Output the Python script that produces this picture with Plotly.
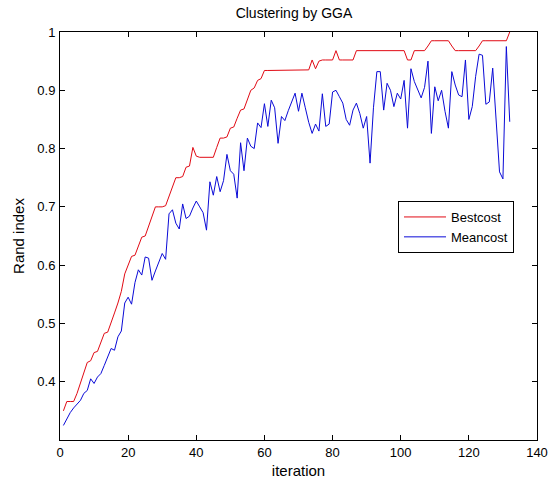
import plotly.graph_objects as go

iterations = list(range(1, 133))

bestcost = [
    0.350, 0.366, 0.366, 0.366, 0.380, 0.397, 0.415, 0.433, 0.436, 0.450,
    0.452, 0.468, 0.483, 0.485, 0.500, 0.518, 0.535, 0.555, 0.585, 0.600,
    0.615, 0.617, 0.633, 0.648, 0.650, 0.668, 0.683, 0.700, 0.700, 0.700,
    0.702, 0.718, 0.735, 0.750, 0.750, 0.752, 0.768, 0.770, 0.802, 0.787,
    0.785, 0.785, 0.785, 0.785, 0.785, 0.802, 0.818, 0.818, 0.820, 0.835,
    0.837, 0.852, 0.866, 0.868, 0.883, 0.900, 0.904, 0.917, 0.920, 0.934,
    0.934, 0.934, 0.934, 0.934, 0.934, 0.934, 0.934, 0.934, 0.934, 0.934,
    0.934, 0.934, 0.935, 0.952, 0.937, 0.950, 0.952, 0.952, 0.952, 0.952,
    0.968, 0.952, 0.952, 0.952, 0.952, 0.952, 0.968, 0.968, 0.968, 0.968,
    0.968, 0.968, 0.968, 0.968, 0.968, 0.968, 0.968, 0.968, 0.968, 0.968,
    0.968, 0.952, 0.952, 0.968, 0.968, 0.968, 0.968, 0.976, 0.985, 0.985,
    0.985, 0.985, 0.985, 0.985, 0.976, 0.968, 0.968, 0.968, 0.968, 0.968,
    0.968, 0.968, 0.976, 0.985, 0.985, 0.985, 0.985, 0.985, 0.985, 0.985,
    0.985, 1.000,
]

meancost = [
    0.325, 0.337, 0.347, 0.355, 0.362, 0.368, 0.380, 0.385, 0.405, 0.397,
    0.408, 0.414, 0.428, 0.442, 0.457, 0.454, 0.477, 0.487, 0.535, 0.545,
    0.533, 0.570, 0.592, 0.583, 0.614, 0.612, 0.574, 0.590, 0.605, 0.620,
    0.610, 0.688, 0.695, 0.672, 0.662, 0.705, 0.680, 0.684, 0.698, 0.710,
    0.700, 0.690, 0.660, 0.743, 0.720, 0.752, 0.726, 0.745, 0.790, 0.762,
    0.756, 0.715, 0.810, 0.762, 0.818, 0.804, 0.800, 0.844, 0.836, 0.877,
    0.838, 0.883, 0.870, 0.809, 0.855, 0.848, 0.865, 0.880, 0.895, 0.864,
    0.895, 0.870, 0.845, 0.826, 0.842, 0.830, 0.894, 0.838, 0.842, 0.897,
    0.900, 0.889, 0.878, 0.850, 0.840, 0.866, 0.878, 0.860, 0.835, 0.855,
    0.775, 0.870, 0.932, 0.932, 0.866, 0.912, 0.900, 0.872, 0.895, 0.885,
    0.917, 0.835, 0.937, 0.915, 0.900, 0.887, 0.905, 0.950, 0.826, 0.906,
    0.882, 0.900, 0.864, 0.835, 0.932, 0.909, 0.892, 0.889, 0.952, 0.850,
    0.872, 0.924, 0.962, 0.960, 0.876, 0.880, 0.938, 0.850, 0.760, 0.748,
    0.975, 0.846,
]

x_ticks = [0, 20, 40, 60, 80, 100, 120, 140]
y_ticks = [0.4, 0.5, 0.6, 0.7, 0.8, 0.9, 1.0]
y_tick_labels = ["0.4", "0.5", "0.6", "0.7", "0.8", "0.9", "1"]

font_family = "Liberation Sans, Arial, sans-serif"

fig = go.Figure()
fig.add_trace(go.Scatter(x=iterations, y=bestcost, mode="lines", name="Bestcost",
                         line=dict(color="rgb(225,10,20)", width=1)))
fig.add_trace(go.Scatter(x=iterations, y=meancost, mode="lines", name="Meancost",
                         line=dict(color="rgb(10,10,215)", width=1)))

fig.update_layout(
    width=549, height=481,
    margin=dict(l=60, r=12, t=32, b=41),
    paper_bgcolor="white", plot_bgcolor="white",
    font=dict(family=font_family, size=13, color="black"),
    title=dict(text="Clustering by GGA", x=(294 - 60) / 477, xref="paper", xanchor="center",
               y=1 - 13 / 481, yref="container", yanchor="middle",
               font=dict(size=14, color="black")),
    showlegend=True,
    legend=dict(x=(398 - 60) / 477, y=(440 - 201) / 408, xanchor="left", yanchor="top",
                bgcolor="white", bordercolor="black", borderwidth=1,
                itemwidth=42, font=dict(size=13, color="black"), tracegroupgap=0),
)
fig.update_xaxes(range=[0, 140], tickvals=x_ticks, ticks="inside", ticklen=5,
                 tickcolor="black", showline=True, linecolor="black", linewidth=1,
                 mirror="ticks", showgrid=False, zeroline=False,
                 tickfont=dict(size=13), automargin=False,
                 title=dict(text="iteration", standoff=6, font=dict(size=15)))
fig.update_yaxes(range=[0.3, 1.0], tickvals=y_ticks, ticktext=y_tick_labels,
                 ticks="inside", ticklen=5, tickcolor="black", showline=True,
                 linecolor="black", linewidth=1, mirror="ticks", showgrid=False,
                 zeroline=False, tickfont=dict(size=13), automargin=False,
                 ticklabelstandoff=1,
                 title=dict(text="Rand index", standoff=9, font=dict(size=15)))

fig.write_html("out.html", config={"displayModeBar": False},
               post_script="document.body.style.margin='0';")
